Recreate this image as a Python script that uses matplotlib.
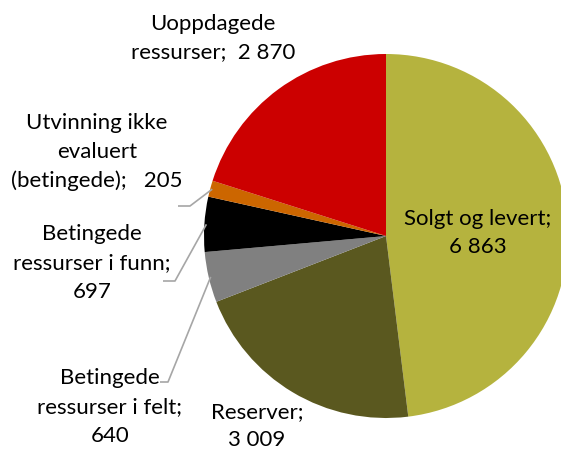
import matplotlib
matplotlib.use("Agg")
import matplotlib.pyplot as plt
import numpy as np

categories = ["Solgt og levert", "Reserver", "Betingede ressurser i felt",
              "Betingede ressurser i funn", "Utvinning ikke evaluert (betingede)",
              "Uoppdagede ressurser"]
values = [6863, 3009, 640, 697, 205, 2870]
labels = ["Solgt og levert;\n6 863", "Reserver;\n3 009",
          "Betingede\nressurser i felt;\n640", "Betingede\nressurser i funn;\n697",
          "Utvinning ikke\nevaluert\n(betingede);   205", "Uoppdagede\nressurser;  2 870"]
colors = ["#B5B33E", "#5A581F", "#808080", "#000000", "#CC6600", "#CC0000"]

plt.rcParams['font.family'] = ['Lato', 'DejaVu Sans']

W, H = 561, 453
fig = plt.figure(figsize=(W / 100, H / 100), dpi=100)
ax = fig.add_axes([0, 0, 1, 1])

cx, cy, R = 386, H - 236, 182
wedges, _ = ax.pie(values, colors=colors, startangle=90, counterclock=False,
                   center=(cx, cy), radius=R, frame=True,
                   wedgeprops=dict(linewidth=0))
ax.set_xlim(0, W)
ax.set_ylim(0, H)
ax.axis('off')

fs = 16
# label positions in pixel coords (x, y from top)
pos = {
    0: (478, 233),
    1: (257, 426),
    2: (110, 407),
    3: (92, 263),
    4: (97, 152),
    5: (213, 38),
}
for i, (x, y) in pos.items():
    ax.text(x, H - y, labels[i], ha='center', va='center', fontsize=fs,
            color='black', linespacing=1.55)

# leader lines
def edge_point(i, r=R):
    w = wedges[i]
    ang = np.deg2rad((w.theta1 + w.theta2) / 2)
    return cx + r * np.cos(ang), cy + r * np.sin(ang)

leaders = {
    4: [(190, 206), (178, 206)],
    3: [(175, 281), (163, 281)],
    2: [(168, 382), (160, 382)],
}
for i, pts in leaders.items():
    x0, y0 = edge_point(i, R - 2)
    xs = [x0] + [p[0] for p in pts]
    ys = [y0] + [H - p[1] for p in pts]
    ax.plot(xs, ys, color='#A6A6A6', lw=1.2, solid_capstyle='butt')

fig.savefig("out.png", dpi=100)
